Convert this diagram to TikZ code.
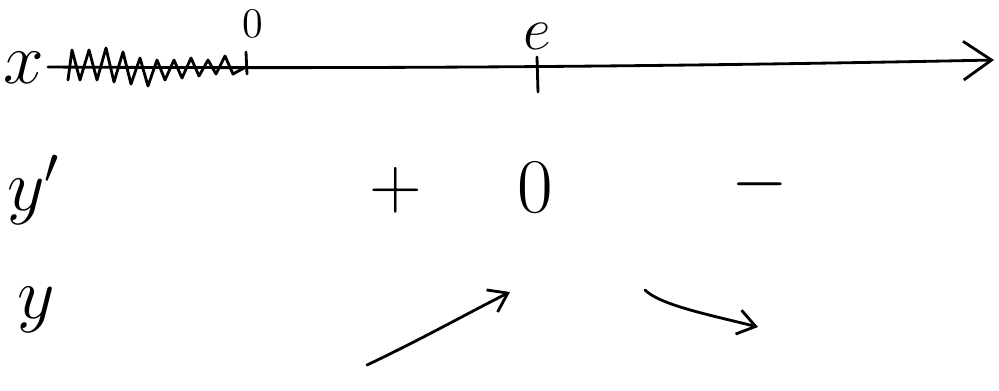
\documentclass[tikz,border=0pt]{standalone}
\usepackage{tikz}
\usepackage{xcolor}
\usetikzlibrary{arrows.meta}

\tikzset{
  big/.style={font=\fontsize{22}{26}\selectfont},
  mid/.style={font=\fontsize{19}{22}\selectfont},
  small/.style={font=\fontsize{12}{14}\selectfont},
  stroke/.style={thick, line cap=round, line join=round},
  hand/.style={stroke, -{Straight Barb[length=8pt,width=11pt]}},
  handsmall/.style={stroke, -{Straight Barb[length=5pt,width=7pt]}}
}

\begin{document}
\begin{tikzpicture}[x=0.01cm,y=-0.01cm]
\useasboundingbox (0,0) rectangle (999,390);
% Row labels
\node[big] (xlab) at (24,68) {$x$};
\node[big] (ylabd) at (34,190) {$y'$};
\node[big] (ylab) at (36,310) {$y$};
% Axis with its marks
\coordinate (axstart) at (48,67);
\coordinate (axend) at (994,60);
\draw[hand] (axstart) .. controls (400,69) and (700,66) .. (axend);
\node[small] (zeromark) at (253,24) {0};
\draw[stroke] (246,52) -- (247,74);
\node[mid, inner sep=1pt] (elab) at (537,36) {$e$};
\draw[stroke] (537,57) -- (538,92);
% Scribble over the left part
\draw[stroke] (68,80)
  \foreach \i/\t/\b in {0/50/80, 1/50/80, 2/48/82, 3/52/84, 4/58/86,
                        5/60/80, 6/60/78, 7/58/76, 8/60/74, 9/56/74} {
    -- ({72+\i*17},\t) -- ({80+\i*17},\b)
  } -- (244,68);
% Signs of y'
\node[big] (plus) at (396,190) {$+$};
\node[big] (zero) at (535,188) {0};
\node[big] (minus) at (760,184) {$-$};
% Variation of y
\coordinate (incA) at (367,365);
\coordinate (incB) at (510,292);
\draw[handsmall] (incA) .. controls (420,340) and (470,312) .. (incB);
\coordinate (decA) at (645,290);
\coordinate (decB) at (758,327);
\draw[handsmall] (decA) .. controls (660,305) and (710,315) .. (decB);
\end{tikzpicture}
\end{document}
